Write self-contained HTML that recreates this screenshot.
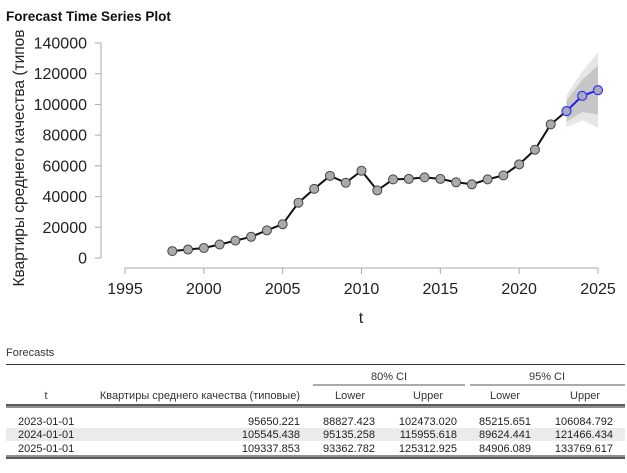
<!DOCTYPE html>
<html><head><meta charset="utf-8"><style>
body{margin:0;width:627px;height:468px;background:#fff;font-family:"Liberation Sans",sans-serif;overflow:hidden}
svg text{font-family:"Liberation Sans",sans-serif}
</style></head><body>
<svg width="627" height="468" id="s">
<text x="6" y="21" font-size="13.5" font-weight="bold" fill="#111">Forecast Time Series Plot</text>
<text transform="translate(24,158) rotate(-90)" text-anchor="middle" font-size="15.5" fill="#222">Квартиры среднего качества (типов</text>
<text x="361" y="323" text-anchor="middle" font-size="16" fill="#222">t</text>
<g id="g"></g>
<text x="6" y="356" font-size="11" fill="#333">Forecasts</text>
<line x1="6" y1="364.5" x2="625" y2="364.5" stroke="#333" stroke-width="1"/>
<text x="389" y="380" text-anchor="middle" font-size="11" fill="#333">80% CI</text>
<text x="547" y="380" text-anchor="middle" font-size="11" fill="#333">95% CI</text>
<line x1="313" y1="385" x2="465" y2="385" stroke="#555"/>
<line x1="470" y1="385" x2="625" y2="385" stroke="#555"/>
<g font-size="11" fill="#333">
<text x="46" y="399" text-anchor="middle">t</text>
<text x="300" y="399" text-anchor="end">Квартиры среднего качества (типовые)</text>
<text x="350" y="399" text-anchor="middle">Lower</text>
<text x="428" y="399" text-anchor="middle">Upper</text>
<text x="505" y="399" text-anchor="middle">Lower</text>
<text x="585" y="399" text-anchor="middle">Upper</text>
</g>
<line x1="6" y1="405" x2="625" y2="405" stroke="#222" stroke-width="1.5"/>
<line x1="6" y1="407" x2="625" y2="407" stroke="#222" stroke-width="1"/>
<rect x="6" y="428" width="619" height="13" fill="#ebebeb"/>
<g id="tb" font-size="11" fill="#222"></g>
<line x1="6" y1="456" x2="625" y2="456" stroke="#222" stroke-width="1"/>
<line x1="6" y1="458" x2="625" y2="458" stroke="#222" stroke-width="1.5"/>
</svg>
<script>
const years=[1998,1999,2000,2001,2002,2003,2004,2005,2006,2007,2008,2009,2010,2011,2012,2013,2014,2015,2016,2017,2018,2019,2020,2021,2022];
const values=[4500,5500,6500,8800,11300,13800,18000,22000,36000,45000,53500,49000,56800,44000,51200,51500,52500,51500,49300,48000,51200,53800,61000,70500,87000];
const fYears=[2023,2024,2025];
const fDates=["2023-01-01","2024-01-01","2025-01-01"];
const fMean=[95650.221,105545.438,109337.853];
const lo80=[88827.423,95135.258,93362.782];
const hi80=[102473.020,115955.618,125312.925];
const lo95=[85215.651,89624.441,84906.089];
const hi95=[106084.792,121466.434,133769.617];
const xTicks=[1995,2000,2005,2010,2015,2020,2025];
const yTicks=[0,20000,40000,60000,80000,100000,120000,140000];
const X=v=>125+(v-1995)*(598-125)/30;
const Y=v=>258-v*(258-43)/140000;
const NS="http://www.w3.org/2000/svg";
const g=document.getElementById('g');
function mk(t,a,p){const e=document.createElementNS(NS,t);for(const k in a)e.setAttribute(k,a[k]);(p||g).appendChild(e);return e;}
let e=mk('line',{x1:101,y1:Y(0),x2:101,y2:Y(140000),stroke:'#aaa'});


yTicks.forEach(v=>{mk('line',{x1:95,x2:101,y1:Y(v),y2:Y(v),stroke:'#aaa'});
const t=mk('text',{x:87,y:Y(v)+5.5,'text-anchor':'end','font-size':16,fill:'#222'});t.textContent=v;

});
e=mk('line',{x1:X(1995),y1:268,x2:X(2025),y2:268,stroke:'#aaa'});


xTicks.forEach(v=>{mk('line',{x1:X(v),x2:X(v),y1:268,y2:274,stroke:'#aaa'});
const t=mk('text',{x:X(v),y:294,'text-anchor':'middle','font-size':16,fill:'#222'});t.textContent=v;

});
function band(lo,hi,c,n){let d='';fYears.forEach((y,i)=>d+=(i?'L':'M')+X(y)+','+Y(hi[i]));
for(let i=fYears.length-1;i>=0;i--)d+='L'+X(fYears[i])+','+Y(lo[i]);
const p=mk('path',{d:d+'Z',fill:c});

}
band(lo95,hi95,'#e6e6e6','ci95-band');
band(lo80,hi80,'#c6c6c6','ci80-band');
let d='';years.forEach((y,i)=>d+=(i?'L':'M')+X(y)+','+Y(values[i]));
d+='L'+X(fYears[0])+','+Y(fMean[0]);
e=mk('path',{d:d,fill:'none',stroke:'#111','stroke-width':2});


d='';fYears.forEach((y,i)=>d+=(i?'L':'M')+X(y)+','+Y(fMean[i]));
e=mk('path',{d:d,fill:'none',stroke:'#2222ee','stroke-width':2});


years.forEach((y,i)=>{const c=mk('circle',{cx:X(y),cy:Y(values[i]),r:4.5,fill:'#aaa',stroke:'#444','stroke-width':1});

});
fYears.forEach((y,i)=>{const c=mk('circle',{cx:X(y),cy:Y(fMean[i]),r:4.5,fill:'#aab',stroke:'#3333ff','stroke-width':1.2});

});
const tb=document.getElementById('tb');
const cols=[[fDates,18,'start'],[fMean.map(v=>v.toFixed(3)),300,'end'],[lo80.map(v=>v.toFixed(3)),375,'end'],[hi80.map(v=>v.toFixed(3)),457,'end'],[lo95.map(v=>v.toFixed(3)),531,'end'],[hi95.map(v=>v.toFixed(3)),613,'end']];
[425,438,452].forEach((yy,r)=>cols.forEach(c=>{const t=mk('text',{x:c[1],y:yy,'text-anchor':c[2]},tb);t.textContent=c[0][r];

}));
</script>
</body></html>
